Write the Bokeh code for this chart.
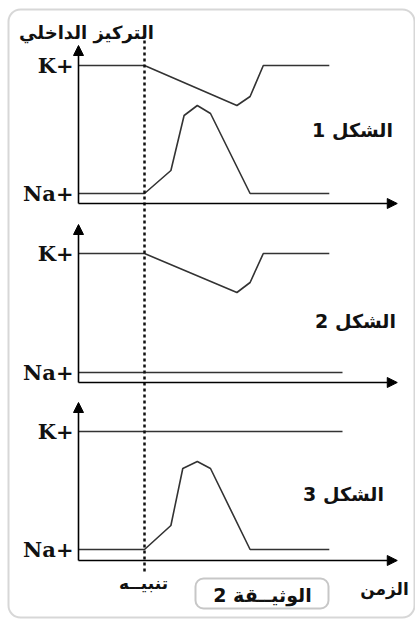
from bokeh.plotting import figure
from bokeh.models import Range1d, Arrow, NormalHead, BoxAnnotation, ColumnDataSource
from bokeh.core.properties import value
from bokeh.embed import file_html
from bokeh.resources import INLINE

# ---------------- data (time in arbitrary units, concentration in arbitrary units) -------------
stim_t = 1.0                      # moment of stimulation
axis_t_end = 4.83                 # end of the time axis arrow
axis_c_top = 15.8                 # top of the concentration axis arrow

# Panel 1 (الشكل 1): K+ falls then recovers, Na+ rises then falls
t_k1 = [0.0, 1.0, 2.4, 2.6, 2.8, 3.8]
k1 = [13.8, 13.8, 9.8, 10.7, 13.8, 13.8]
t_na1 = [0.0, 1.0, 1.4, 1.6, 1.8, 2.0, 2.6, 3.8]
na1 = [1.0, 1.0, 3.3, 8.8, 9.8, 9.0, 1.0, 1.0]

# Panel 2 (الشكل 2): only K+ changes
t_k2 = [0.0, 1.0, 2.4, 2.6, 2.8, 3.8]
k2 = [12.9, 12.9, 9.0, 10.0, 12.9, 12.9]
t_na2 = [0.0, 4.0]
na2 = [1.0, 1.0]

# Panel 3 (الشكل 3): only Na+ changes
t_k3 = [0.0, 4.0]
k3 = [12.9, 12.9]
t_na3 = [0.0, 1.0, 1.4, 1.58, 1.8, 2.0, 2.6, 3.8]
na3 = [1.1, 1.1, 3.5, 9.2, 9.9, 9.2, 1.1, 1.1]

ion_labels = ["K+", "Na+"]
panel_titles = ["الشكل 1", "الشكل 2", "الشكل 3"]
y_title = "التركيز الداخلي"
x_title = "الزمن"
stim_label = "تنبيــه"
doc_label = "الوثيــقة 2"

# ---------------- figure (default ranges = page pixel frame for decoration) -------------
W, H = 415, 619
p = figure(width=W, height=H, output_backend="svg", toolbar_location=None,
           x_range=Range1d(0, W), y_range=Range1d(H, 0),
           x_axis_location=None, y_axis_location=None, min_border=0,
           background_fill_color="white", border_fill_color="white")
p.grid.visible = False
p.outline_line_color = None

PX_T = 66.0      # pixels per time unit
ORIG_X = 78.0    # page x of time origin
PX_C = 10.0      # pixels per concentration unit
p.extra_x_ranges = {"t": Range1d((0 - ORIG_X) / PX_T, (W - ORIG_X) / PX_T)}
axis_rows = {"p1": 203.0, "p2": 382.0, "p3": 560.0}
p.extra_y_ranges = {k: Range1d((a - H) / PX_C, a / PX_C) for k, a in axis_rows.items()}

# outer rounded frame
p.add_layout(BoxAnnotation(left=8, right=414, top=9, bottom=617,
                           border_radius=12, fill_alpha=0, line_color="#7a7a7a", line_width=2))

curve_color = "#333333"
panels = [
    ("p1", (t_k1, k1), (t_na1, na1), panel_titles[0]),
    ("p2", (t_k2, k2), (t_na2, na2), panel_titles[1]),
    ("p3", (t_k3, k3), (t_na3, na3), panel_titles[2]),
]
title_pos = {"p1": (352, 129), "p2": (355, 320), "p3": (343, 493)}

for name, (tk, k), (tn, na), ttl in panels:
    # axes with arrow heads
    p.add_layout(Arrow(end=NormalHead(size=10, fill_color="black", line_color="black"),
                       x_start=0, y_start=0, x_end=0, y_end=axis_c_top,
                       x_range_name="t", y_range_name=name, line_width=1.6, line_color="black"))
    p.add_layout(Arrow(end=NormalHead(size=10, fill_color="black", line_color="black"),
                       x_start=0, y_start=0, x_end=axis_t_end, y_end=0,
                       x_range_name="t", y_range_name=name, line_width=1.6, line_color="black"))
    # curves
    p.line(tk, k, x_range_name="t", y_range_name=name, line_color=curve_color, line_width=1.6)
    p.line(tn, na, x_range_name="t", y_range_name=name, line_color=curve_color, line_width=1.6)
    # ion labels at resting levels
    src = ColumnDataSource(dict(x=[0, 0], y=[k[0], na[0]], txt=ion_labels))
    p.text("x", "y", text="txt", source=src, x_range_name="t", y_range_name=name,
           x_offset=-5, text_align="right", text_baseline="middle",
           text_font=value("DejaVu Serif"), text_font_style="bold", text_font_size="21px",
           text_color="#111111")
    # panel title
    tx, ty = title_pos[name]
    p.text([tx], [ty], text=[ttl], text_align="center", text_baseline="middle",
           text_font=value("DejaVu Sans"), text_font_style="bold", text_font_size="19px",
           text_color="#111111")

# stimulation dotted line
p.segment(x0=[stim_t], y0=[40], x1=[stim_t], y1=[574], x_range_name="t",
          line_color="#111111", line_width=2.5, line_dash="3 3")

# y title
p.text([86], [32], text=[y_title], text_align="center", text_baseline="middle",
       text_font=value("DejaVu Sans"), text_font_style="bold", text_font_size="18px",
       text_color="#111111")
# stimulus label
p.text([143], [582], text=[stim_label], text_align="center", text_baseline="middle",
       text_font=value("DejaVu Sans"), text_font_style="bold", text_font_size="17px",
       text_color="#111111")
# time label
p.text([384], [588], text=[x_title], text_align="center", text_baseline="middle",
       text_font=value("DejaVu Sans"), text_font_style="bold", text_font_size="17px",
       text_color="#111111")
# document box
p.add_layout(BoxAnnotation(left=195, right=328, top=578, bottom=608, border_radius=8,
                           fill_alpha=0, line_color="#444444", line_width=2))
p.text([262], [594], text=[doc_label], text_align="center", text_baseline="middle",
       text_font=value("DejaVu Sans"), text_font_style="bold", text_font_size="19px",
       text_color="#111111")

open("out.html", "w").write(file_html(p, INLINE))
